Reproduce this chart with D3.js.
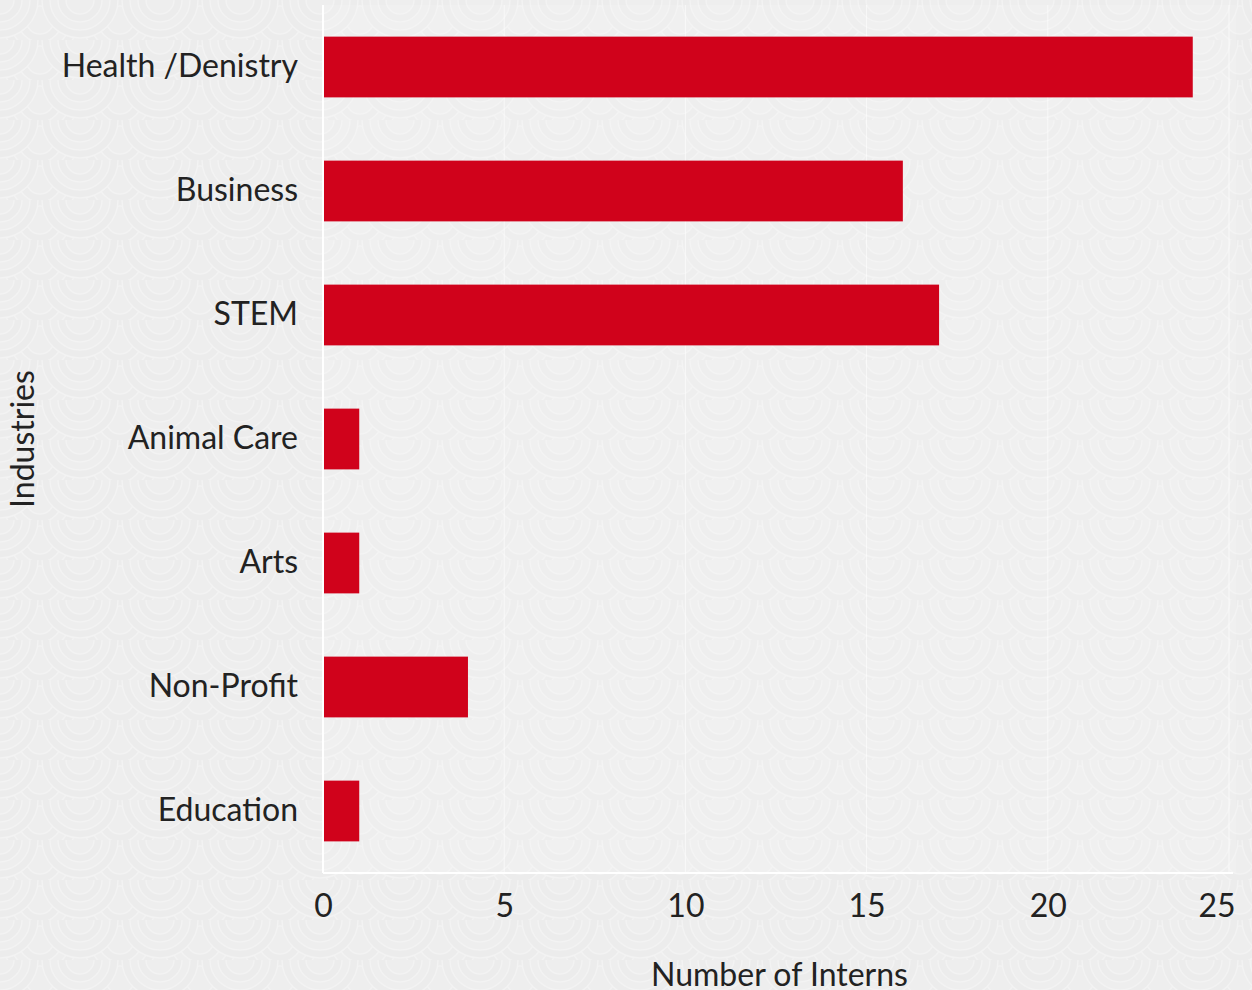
<!DOCTYPE html>
<html>
<head>
<meta charset="utf-8">
<script src="https://cdn.jsdelivr.net/npm/d3@7"></script>
<style>
  body { margin: 0; background: #eeeeee; }
  svg { display: block; }
</style>
</head>
<body>
<div id="chart"></div>
<script>
// data
var industries = ["Health /Denistry", "Business", "STEM", "Animal Care", "Arts", "Non-Profit", "Education"]
var interns = [24, 16, 17, 1, 1, 4, 1]
var xTicks = [0, 5, 10, 15, 20, 25]

var width = 1252
var height = 990
var margin = {top: 5, right: 16, bottom: 117, left: 323}

var svg = d3.select("#chart")
  .append("svg")
    .attr("width", width)
    .attr("height", height)

// wave-like paper background
var defs = svg.append("defs")
var pat = defs.append("pattern")
    .attr("id", "waves")
    .attr("width", 80)
    .attr("height", 40)
    .attr("patternUnits", "userSpaceOnUse")
pat.append("rect").attr("width", 80).attr("height", 40).attr("fill", "#eeeeee")
;[[0, 40], [80, 40], [40, 20], [0, 0], [80, 0]].forEach(function(c) {
  [38, 30, 22, 14].forEach(function(r, i) {
    pat.append("circle")
      .attr("cx", c[0]).attr("cy", c[1]).attr("r", r)
      .attr("fill", i % 2 ? "#eeeeee" : "#ececec")
      .attr("stroke", "#f3f3f3")
      .attr("stroke-width", 1.5)
  })
})
svg.append("rect")
    .attr("width", width)
    .attr("height", height)
    .attr("fill", "url(#waves)")

var g = svg.append("g")
    .attr("transform", "translate(" + margin.left + "," + margin.top + ")")

var w = width - margin.left - margin.right
var h = height - margin.top - margin.bottom

var x = d3.scaleLinear()
    .domain([0, 25])
    .range([0, w - 7])

var y = d3.scaleBand()
    .domain(industries)
    .range([0, h])
    .paddingInner(0.51)
    .paddingOuter(0.255)

// faint plot background + grid
g.append("rect")
    .attr("width", w)
    .attr("height", h)
    .attr("fill", "#ffffff")
    .attr("opacity", 0.12)

g.selectAll(".grid")
  .data(xTicks.slice(1))
  .enter()
  .append("line")
    .attr("x1", function(d) { return x(d) })
    .attr("x2", function(d) { return x(d) })
    .attr("y1", 0)
    .attr("y2", h)
    .attr("stroke", "#ffffff")
    .attr("stroke-opacity", 0.6)
    .attr("stroke-width", 1)

// bars
g.selectAll(".bar")
  .data(industries)
  .enter()
  .append("rect")
    .attr("x", x(0))
    .attr("y", function(d) { return y(d) })
    .attr("width", function(d, i) { return x(interns[i]) - x(0) })
    .attr("height", y.bandwidth())
    .attr("fill", "#d0021b")

// axis lines
g.append("line")
    .attr("x1", 0).attr("x2", 0).attr("y1", 0).attr("y2", h)
    .attr("stroke", "#ffffff").attr("stroke-width", 2)
g.append("line")
    .attr("x1", 0).attr("x2", w - 3).attr("y1", h).attr("y2", h)
    .attr("stroke", "#ffffff").attr("stroke-width", 2)

// x axis
var xAxis = g.append("g")
    .attr("transform", "translate(0," + h + ")")
    .call(d3.axisBottom(x).tickValues(xTicks).tickSize(0).tickPadding(21))
xAxis.select(".domain").remove()
xAxis.selectAll("text")
    .style("font-family", "Lato, sans-serif")
    .style("font-size", "32px")
    .style("fill", "#222222")
    .attr("text-anchor", function(d) { return d === 25 ? "end" : "middle" })
    .attr("dx", function(d) { return d === 25 ? "6px" : 0 })

// y axis
var yAxis = g.append("g")
    .call(d3.axisLeft(y).tickSize(0).tickPadding(25))
yAxis.select(".domain").remove()
yAxis.selectAll("text")
    .style("font-family", "Lato, sans-serif")
    .style("font-size", "32px")
    .style("fill", "#222222")

// axis titles
svg.append("text")
    .attr("x", margin.left + w / 2)
    .attr("y", 986)
    .attr("text-anchor", "middle")
    .style("font-family", "Lato, sans-serif")
    .style("font-size", "32px")
    .style("fill", "#222222")
    .text("Number of Interns")

svg.append("text")
    .attr("transform", "translate(34," + (margin.top + h / 2) + ") rotate(-90)")
    .attr("text-anchor", "middle")
    .style("font-family", "Lato, sans-serif")
    .style("font-size", "32px")
    .style("fill", "#222222")
    .text("Industries")
</script>
</body>
</html>
